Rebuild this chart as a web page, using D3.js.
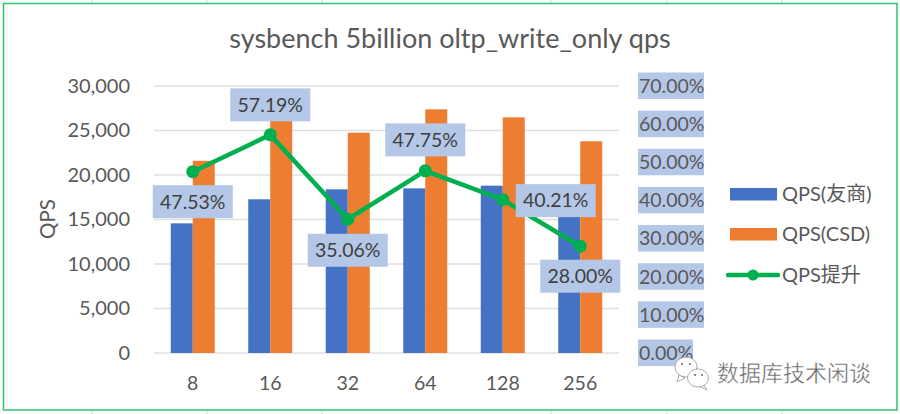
<!DOCTYPE html>
<html><head><meta charset="utf-8">
<script src="https://cdn.jsdelivr.net/npm/d3@7/dist/d3.min.js"></script>
<style>
html,body{margin:0;padding:0;background:#fff}
svg{display:block}
text{font-family:Lato,"Noto Sans CJK SC",sans-serif;fill:#595959}
</style></head><body>
<svg id="c" width="900" height="414"></svg>
<script>
const categories = ["8","16","32","64","128","256"];
const qpsVendor = [14570,17270,18390,18500,18800,18670];
const qpsCSD = [21600,27200,24750,27380,26480,23790];
const qpsGain = [47.53,57.19,35.06,47.75,40.21,28.00];
const leftTicks = [0,5000,10000,15000,20000,25000,30000];
const rightTicks = [0,10,20,30,40,50,60,70];
const seriesNames = ["QPS(友商)","QPS(CSD)","QPS提升"];
const chartTitle = "sysbench 5billion oltp_write_only qps";
const watermark = "数据库技术闲谈";
const colors = {vendor:"#4472c4",csd:"#ed7d31",gain:"#00b050",label:"#b4c7e7",grid:"#e0e0e0",frame:"#2fc470"};

const svg = d3.select("#c");
const L=154, R=619, T=86, B=353;
const x = d3.scaleBand().domain(categories).range([L,R]);
const y = d3.scaleLinear().domain([0,30000]).range([B,T]);
const y2 = d3.scaleLinear().domain([0,70]).range([B,T]);
const barW = 22;

// sheet cell marks outside the chart frame, then the frame
svg.append("g").selectAll("line").data([92,207,322,551,667,782]).join("line")
  .attr("x1",d=>d).attr("x2",d=>d).attr("y1",0).attr("y2",414).attr("stroke","#d8d8d8");
svg.append("rect").attr("x",3.5).attr("y",3.5).attr("width",893.5).attr("height",406.5)
  .attr("fill","#fff").attr("stroke",colors.frame).attr("stroke-width",1.5);

svg.append("text").attr("x",450).attr("y",48).attr("text-anchor","middle")
  .attr("font-size",27).text(chartTitle);

// gridlines
svg.append("g").selectAll("line").data(leftTicks).join("line")
  .attr("x1",L).attr("x2",R).attr("y1",d=>y(d)).attr("y2",d=>y(d))
  .attr("stroke",colors.grid).attr("stroke-width",1.5);

// left axis
const ax = svg.append("g").attr("transform",`translate(${L-24},0)`)
  .call(d3.axisLeft(y).tickValues(leftTicks).tickFormat(d3.format(",")).tickSize(0).tickPadding(0));
ax.select(".domain").remove();
ax.selectAll("text").attr("font-size",20).style("font-family","Lato");
svg.append("text").attr("transform","translate(55,219) rotate(-90)").attr("text-anchor","middle")
  .attr("font-size",20.5).text("QPS");

// bottom axis
const bx = svg.append("g").attr("transform",`translate(0,${B})`)
  .call(d3.axisBottom(x).tickSize(0).tickPadding(23));
bx.select(".domain").remove();
bx.selectAll("text").attr("font-size",19.5).style("font-family","Lato");

// bars
const cx = (d,i)=>x(categories[i])+x.bandwidth()/2;
svg.append("g").selectAll("rect").data(qpsVendor).join("rect")
  .attr("x",(d,i)=>cx(d,i)-barW).attr("width",barW)
  .attr("y",d=>y(d)).attr("height",d=>B-y(d)).attr("fill",colors.vendor);
svg.append("g").selectAll("rect").data(qpsCSD).join("rect")
  .attr("x",(d,i)=>cx(d,i)).attr("width",barW)
  .attr("y",d=>y(d)).attr("height",d=>B-y(d)).attr("fill",colors.csd);

// right axis labels with boxes
const ry = svg.append("g").selectAll("g").data(rightTicks).join("g")
  .attr("transform",d=>`translate(638,${y2(d)})`);
ry.append("rect").attr("y",-13.5).attr("height",26.5).attr("fill",colors.label)
  .attr("width",d=>d===0?55:66);
ry.append("text").attr("x",1).attr("dy","0.35em").attr("font-size",19.5)
  .text(d=>d3.format(".2f")(d)+"%");

// line
svg.append("path").datum(qpsGain)
  .attr("d",d3.line().x(cx).y(d=>y2(d)))
  .attr("fill","none").attr("stroke",colors.gain).attr("stroke-width",4.5).attr("stroke-linejoin","round");
svg.append("g").selectAll("circle").data(qpsGain).join("circle")
  .attr("cx",cx).attr("cy",d=>y2(d)).attr("r",6.5).attr("fill",colors.gain);

// data labels
const labelDx = [0,0,0,0,53,0];
const labelDy = [30,-30,31,-31,1,30];
const lab = svg.append("g").selectAll("g").data(qpsGain).join("g")
  .attr("transform",(d,i)=>`translate(${cx(d,i)+labelDx[i]},${y2(d)+labelDy[i]})`);
lab.append("rect").attr("x",-40).attr("y",-16.5).attr("width",80).attr("height",33).attr("fill",colors.label);
lab.append("text").attr("text-anchor","middle").attr("dy","0.35em").attr("font-size",19.5)
  .style("fill","#404040").text(d=>d3.format(".2f")(d)+"%");

// legend
const lg = svg.append("g");
[0,1].forEach(i=>{
  lg.append("rect").attr("x",730).attr("y",[188,228][i]).attr("width",47).attr("height",12.5)
    .attr("fill",[colors.vendor,colors.csd][i]);
});
lg.append("line").attr("x1",728).attr("x2",778).attr("y1",275).attr("y2",275)
  .attr("stroke",colors.gain).attr("stroke-width",4.5).attr("stroke-linecap","round");
lg.append("circle").attr("cx",753).attr("cy",275).attr("r",5.5).attr("fill",colors.gain);
lg.selectAll("text").data(seriesNames).join("text")
  .attr("x",782).attr("y",(d,i)=>[194,234,275][i]).attr("dy","0.35em").attr("font-size",20).text(d=>d);

// watermark
const wm = svg.append("g").attr("fill","#fff").attr("stroke","#999").attr("stroke-width",.8);
wm.append("path").attr("d","M679 375 L677 382 L685 378 Z");
wm.append("ellipse").attr("cx",686).attr("cy",367).attr("rx",11).attr("ry",10);
wm.append("path").attr("d","M703 384 L707 390 L699 386 Z");
wm.append("ellipse").attr("cx",698).attr("cy",378).attr("rx",10.5).attr("ry",9);
svg.append("g").attr("fill","#667").selectAll("circle").data([[682,364],[690,364],[695,375],[702,375]]).join("circle")
  .attr("cx",d=>d[0]).attr("cy",d=>d[1]).attr("r",1);
svg.append("text").attr("x",717).attr("y",381).attr("font-size",22)
  .style("fill","#666").attr("stroke","#fff").attr("stroke-width",.4).text(watermark);
</script>
</body></html>
